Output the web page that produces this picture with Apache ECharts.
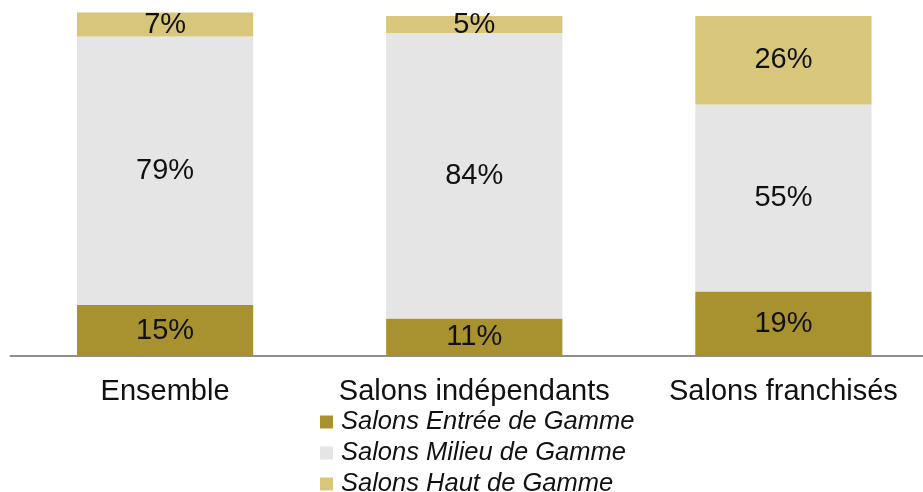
<!DOCTYPE html>
<html>
<head>
<meta charset="utf-8">
<script src="https://cdn.jsdelivr.net/npm/echarts@6/dist/echarts.min.js"></script>
<style>html,body{margin:0;padding:0;background:#fff;overflow:hidden}#c{width:938px;height:492px}</style>
</head>
<body>
<div id="c"></div>
<script>
var categories = ['Ensemble', 'Salons indépendants', 'Salons franchisés'];
var seriesNames = ['Salons Entrée de Gamme', 'Salons Milieu de Gamme', 'Salons Haut de Gamme'];
var entree = [15, 11, 19];
var milieu = [79, 84, 55];
var haut = [7, 5, 26];
var colors = ['#A8912F', '#E5E5E5', '#D8C67B'];

var font = '"Liberation Sans", Arial, sans-serif';
function mk(name, data, color) {
  return {
    name: name, type: 'bar', stack: 'total', data: data,
    barCategoryGap: '43%', clip: false,
    itemStyle: { color: color },
    label: { show: true, position: 'inside', formatter: '{c}%', color: '#111', fontSize: 29, fontFamily: font },
    emphasis: { disabled: true }
  };
}
var chart = echarts.init(document.getElementById('c'));
chart.setOption({
  animation: false,
  color: colors,
  grid: { left: 10.5, right: 0, top: 16, bottom: 136, containLabel: false },
  xAxis: {
    type: 'category', data: categories,
    axisLine: { lineStyle: { color: '#8f8f8f', width: 2 } },
    axisTick: { show: false },
    axisLabel: { color: '#111', fontSize: 29, fontFamily: font, margin: 21, interval: 0 }
  },
  yAxis: { type: 'value', min: 0, max: 100, show: false, splitLine: { show: false } },
  legend: {
    orient: 'vertical', left: 320, top: 409, height: 150, padding: 0, itemWidth: 13, itemHeight: 13, itemGap: 5,
    icon: 'rect',
    data: seriesNames,
    textStyle: { fontSize: 25.5, lineHeight: 25, fontStyle: 'italic', color: '#111', fontFamily: font, padding: [0, 0, 0, 3] }
  },
  series: [mk(seriesNames[0], entree, colors[0]), mk(seriesNames[1], milieu, colors[1]), mk(seriesNames[2], haut, colors[2])]
});
</script>
</body>
</html>
